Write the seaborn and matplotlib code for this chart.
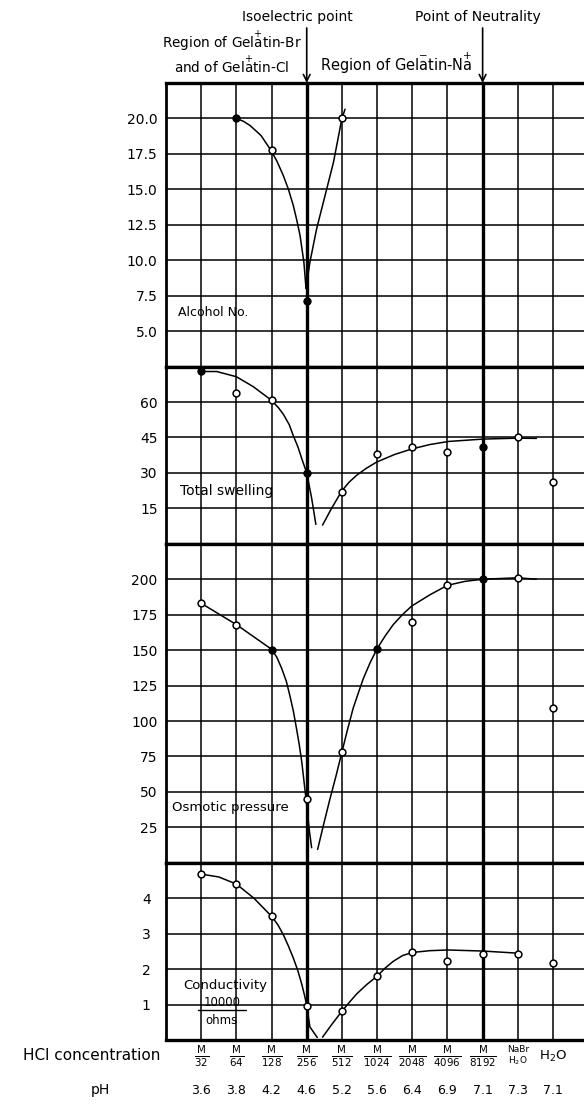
import numpy as np
import pandas as pd
import seaborn as sns
import matplotlib.pyplot as plt
from matplotlib.lines import Line2D

# categories along the bottom (one grid column each)
concentrations = [r"$\frac{\mathrm{M}}{32}$", r"$\frac{\mathrm{M}}{64}$", r"$\frac{\mathrm{M}}{128}$",
                  r"$\frac{\mathrm{M}}{256}$", r"$\frac{\mathrm{M}}{512}$", r"$\frac{\mathrm{M}}{1024}$",
                  r"$\frac{\mathrm{M}}{2048}$", r"$\frac{\mathrm{M}}{4096}$", r"$\frac{\mathrm{M}}{8192}$",
                  "NaBr\nH$_2$O", "H$_2$O"]
ph_values = ["3.6", "3.8", "4.2", "4.6", "5.2", "5.6", "6.4", "6.9", "7.1", "7.3", "7.1"]
col_pos = np.arange(1, len(concentrations) + 1)

# Alcohol No. (measured only for M/64 .. M/512)
alcohol_pos = [2, 3, 4, 5]
alcohol_val = [20.0, 17.8, 7.1, 20.0]
alcohol_filled = [True, False, True, False]
alcohol_left_x = [2.0, 2.2, 2.39, 2.7, 2.97, 3.15, 3.33, 3.48, 3.62, 3.72, 3.81, 3.92, 3.98]
alcohol_left_y = [20.0, 19.8, 19.5, 18.8, 17.8, 17.0, 16.0, 15.0, 13.85, 12.8, 11.75, 9.85, 8.0]
alcohol_right_x = [3.98, 4.09, 4.28, 4.52, 4.76, 5.0, 5.09]
alcohol_right_y = [8.0, 9.85, 12.2, 14.55, 16.9, 20.0, 20.65]

# Total swelling
swelling_val = [73, 64, 61, 30, 22, 38, 41, 39, 41, 45, 26]
swelling_filled = [True, False, False, True, False, False, False, False, True, False, False]
swelling_left_x = [1.0, 1.44, 2.0, 2.48, 3.0, 3.2, 3.34, 3.5, 3.62, 3.75, 3.86, 4.0, 4.14, 4.26]
swelling_left_y = [72.9, 72.9, 70.7, 66.5, 60.7, 57.5, 54.7, 50.5, 45.7, 41.0, 36.0, 30.0, 19.3, 8.2]
swelling_right_x = [4.45, 4.71, 5.0, 5.2, 5.42, 5.7, 5.99, 6.5, 6.98, 7.5, 8.03, 9.0, 10.0, 10.53]
swelling_right_y = [7.9, 15.1, 22.4, 26.0, 29.0, 32.0, 34.6, 37.8, 40.1, 42.0, 43.3, 44.3, 44.7, 44.6]

# Osmotic pressure
osmotic_val = [183, 168, 150, 45, 78, 151, 170, 196, 200, 201, 109]
osmotic_filled = [False, False, True, False, False, True, False, False, True, False, False]
osmotic_left_x = [1.0, 2.0, 3.0, 3.15, 3.29, 3.42, 3.52, 3.62, 3.71, 3.79, 3.86, 3.92, 3.98, 4.07, 4.14]
osmotic_left_y = [183, 168, 150.6, 145, 137, 128, 118, 107, 94.6, 83, 71, 58, 45, 23.6, 10.6]
osmotic_right_x = [4.31, 4.48, 4.66, 4.83, 5.0, 5.16, 5.32, 5.47, 5.61, 5.8, 6.0, 6.23, 6.46,
                   6.72, 6.98, 7.5, 8.0, 8.5, 9.0, 10.0, 10.53]
osmotic_right_y = [9.4, 27, 45, 61, 78, 94, 109, 120, 130, 141, 151, 160, 168,
                   175, 181, 189, 195.7, 198.5, 200, 201, 200]

# Conductivity (10000 / ohms)
conduct_val = [4.68, 4.4, 3.49, 0.97, 0.81, 1.8, 2.47, 2.24, 2.44, 2.44, 2.18]
conduct_filled = [False] * 11
conduct_left_x = [1.0, 1.5, 2.0, 2.5, 3.0, 3.18, 3.34, 3.48, 3.62, 3.75, 3.86, 3.94, 4.0, 4.09, 4.3]
conduct_left_y = [4.68, 4.6, 4.4, 4.0, 3.49, 3.25, 2.96, 2.65, 2.31, 1.95, 1.57, 1.25, 0.97, 0.37, 0.07]
conduct_right_x = [4.45, 4.72, 5.0, 5.2, 5.42, 5.7, 6.0, 6.23, 6.46, 6.72, 7.0, 7.5, 8.0, 9.0, 10.0]
conduct_right_y = [0.08, 0.45, 0.81, 1.05, 1.3, 1.56, 1.8, 2.03, 2.22, 2.38, 2.47, 2.52, 2.54, 2.51, 2.45]

sns.set_theme(style="white")
plt.rcParams["font.family"] = ["DejaVu Sans"]
plt.rcParams["mathtext.fontset"] = "dejavusans"
plt.rcParams["text.color"] = "black"
plt.rcParams["ytick.color"] = "black"
plt.rcParams["xtick.color"] = "black"

W, H = 584, 1108
fig, axes = plt.subplots(4, 1, sharex=True, figsize=(W / 100, H / 100), dpi=100,
                         gridspec_kw=dict(height_ratios=[8, 5, 9, 5], hspace=0))
fig.subplots_adjust(left=166 / W, right=1.0, top=1 - 83 / H, bottom=1 - 1040 / H)

panels = [
    dict(ylim=(2.5, 22.5), ticks=[5, 7.5, 10, 12.5, 15, 17.5, 20],
         labels=["5.0", "7.5", "10.0", "12.5", "15.0", "17.5", "20.0"], pad=6,
         pos=alcohol_pos, val=alcohol_val, filled=alcohol_filled,
         curves=[(alcohol_left_x, alcohol_left_y), (alcohol_right_x, alcohol_right_y)]),
    dict(ylim=(0, 75), ticks=[15, 30, 45, 60], labels=["15", "30", "45", "60"], pad=6,
         pos=col_pos, val=swelling_val, filled=swelling_filled,
         curves=[(swelling_left_x, swelling_left_y), (swelling_right_x, swelling_right_y)]),
    dict(ylim=(0, 225), ticks=[25, 50, 75, 100, 125, 150, 175, 200],
         labels=["25", "50", "75", "100", "125", "150", "175", "200"], pad=6,
         pos=col_pos, val=osmotic_val, filled=osmotic_filled,
         curves=[(osmotic_left_x, osmotic_left_y), (osmotic_right_x, osmotic_right_y)]),
    dict(ylim=(0, 5), ticks=[1, 2, 3, 4], labels=["1", "2", "3", "4"], pad=11,
         pos=col_pos, val=conduct_val, filled=conduct_filled,
         curves=[(conduct_left_x, conduct_left_y), (conduct_right_x, conduct_right_y)]),
]

for ax, p in zip(axes, panels):
    ax.set_xlim(0, (W - 166) / 35.18)
    ax.set_ylim(*p["ylim"])
    ax.set_xticks(range(0, 12))
    ax.set_yticks(p["ticks"])
    ax.set_yticklabels(p["labels"])
    ax.tick_params(axis="both", length=0)
    ax.tick_params(axis="y", pad=p["pad"], labelsize=10, labelcolor="black")
    ax.tick_params(axis="x", labelbottom=False)
    ax.grid(True, color="black", lw=1.1)
    for side in ["top", "bottom"]:
        ax.spines[side].set_linewidth(2.4)
        ax.spines[side].set_color("black")
    ax.spines["left"].set_linewidth(2.0)
    ax.spines["left"].set_color("black")
    ax.spines["right"].set_visible(False)
    ax.axvline(4, color="black", lw=2.4)
    ax.axvline(9, color="black", lw=2.4)

    for cx, cy in p["curves"]:
        sns.lineplot(x=cx, y=cy, sort=False, estimator=None, color="black", lw=1.1, ax=ax)

    df = pd.DataFrame({"pos": p["pos"], "val": p["val"], "filled": p["filled"]})
    sns.scatterplot(data=df[~df["filled"]], x="pos", y="val", marker="o", s=24,
                    facecolor="white", edgecolor="black", linewidth=1.1, ax=ax, zorder=5)
    sns.scatterplot(data=df[df["filled"]], x="pos", y="val", marker="o", s=24,
                    color="black", edgecolor="black", linewidth=1.1, ax=ax, zorder=5)
    ax.set_xlabel("")
    ax.set_ylabel("")


def ftext(x, y, s, **kw):
    fig.text(x / W, 1 - y / H, s, **kw)


# panel titles
ftext(178, 313, "Alcohol No.", fontsize=9, va="center", ha="left")
ftext(180, 491, "Total swelling", fontsize=10, va="center", ha="left")
ftext(172, 808, "Osmotic pressure", fontsize=9.5, va="center", ha="left")
ftext(183, 985, "Conductivity", fontsize=9.5, va="center", ha="left")
ftext(222, 1002, "10000", fontsize=8.5, va="center", ha="center")
ftext(222, 1020, "ohms", fontsize=8.5, va="center", ha="center")
fig.add_artist(Line2D([198 / W, 246 / W], [1 - 1010 / H, 1 - 1010 / H], color="black", lw=1))

# header
top = axes[0]
ftext(297, 17, "Isoelectric point", fontsize=10, ha="center", va="center")
ftext(478, 17, "Point of Neutrality", fontsize=10, ha="center", va="center")
ftext(232, 53, "Region of Gel$\\overset{+}{\\mathrm{a}}$tin-Br\nand of Gel$\\overset{+}{\\mathrm{a}}$tin-Cl",
      fontsize=9.8, ha="center", va="center", linespacing=1.0)
ftext(396, 63, "Region of Gel$\\overset{-}{\\mathrm{a}}$tin-N$\\overset{+}{\\mathrm{a}}$",
      fontsize=10.5, ha="center", va="center")
for xc in [4, 9]:
    top.annotate("", xy=(xc, 22.5), xytext=(0, 55), textcoords="offset pixels",
                 arrowprops=dict(arrowstyle="->", color="black", lw=1.2, shrinkA=0, shrinkB=0),
                 annotation_clip=False)

# bottom labels
ftext(92, 1056, "HCl concentration", fontsize=11, ha="center", va="center")
ftext(100, 1090, "pH", fontsize=10, ha="center", va="center")
for k, (c, ph) in enumerate(zip(concentrations, ph_values)):
    x_pix = 166 + 35.18 * col_pos[k]
    if "NaBr" in c:
        fs = 6.5
    elif "frac" in c:
        fs = 10.5
    else:
        fs = 9.5
    ftext(x_pix, 1056, c, fontsize=fs, ha="center", va="center", linespacing=1.0)
    ftext(x_pix, 1090, ph, fontsize=9, ha="center", va="center")

fig.savefig("out.png", dpi=100)
